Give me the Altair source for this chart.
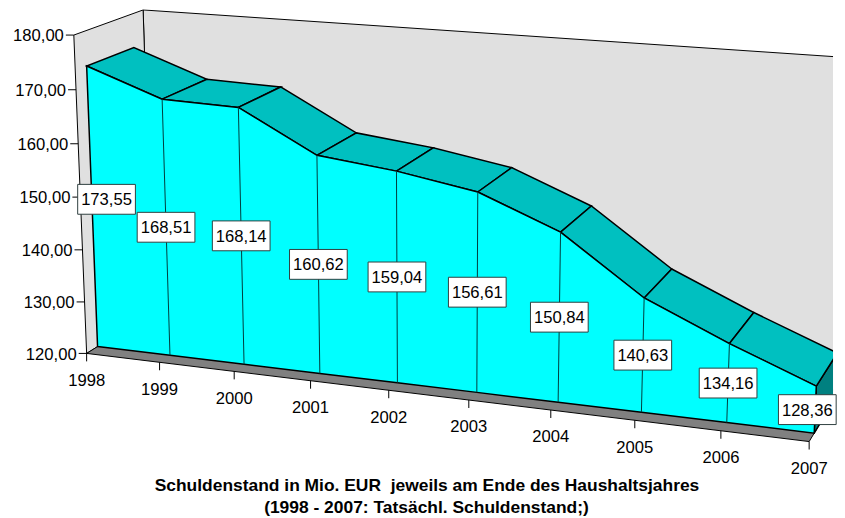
import altair as alt
import pandas as pd

years = ["1998", "1999", "2000", "2001", "2002", "2003", "2004", "2005", "2006", "2007"]
values = [173.55, 168.51, 168.14, 160.62, 159.04, 156.61, 150.84, 140.63, 134.16, 128.36]
value_labels = ["173,55", "168,51", "168,14", "160,62", "159,04", "156,61", "150,84", "140,63", "134,16", "128,36"]
y_ticks = [120, 130, 140, 150, 160, 170, 180]
y_tick_labels = ["120,00", "130,00", "140,00", "150,00", "160,00", "170,00", "180,00"]
title_lines = ["Schuldenstand in Mio. EUR \u00a0jeweils am Ende des Haushaltsjahres",
               "(1998 - 2007: Tatsächl. Schuldenstand;)"]

FONT = "Liberation Sans"
Y_MIN, Y_MAX = 120.0, 180.0
N = len(years) - 1
D_FRONT, D_BACK = -0.23, 1.23


def project(i, v, d=0.0):
    """Oblique perspective of the 3D chart box: category index, value, depth."""
    w = (v - Y_MIN) / 10.0
    X = 98 + 70.85 * i - 2.56 * w + 51.1 * d
    Y = 347 + 4.8 * i - 53.04 * w - 16.2 * d
    W = 1 - 0.0112 * i - 0.00585 * w + 0.0383 * d
    return X / W, Y / W


x_scale = alt.Scale(domain=[8, 837], range=[0, 829], nice=False, zero=False)
y_scale = alt.Scale(domain=[518, 8], range=[510, 0], nice=False, zero=False)
X = alt.X("x:Q", scale=x_scale, axis=None)
Y = alt.Y("y:Q", scale=y_scale, axis=None)


def poly_rows(polys):
    rows = []
    for p, pts in enumerate(polys):
        for k, (a, b) in enumerate(pts):
            rows.append({"poly": p, "k": k, "x": a, "y": b})
    return pd.DataFrame(rows)


def polys(pts_list, fill, stroke="#000000", sw=1.0):
    return alt.Chart(poly_rows(pts_list)).mark_line(
        fill=fill, stroke=stroke, strokeWidth=sw, interpolate="linear-closed", clip=True
    ).encode(x=X, y=Y, detail="poly:N", order="k:Q")


def segs(rows, color="#000000", sw=1.0):
    return alt.Chart(pd.DataFrame(rows)).mark_rule(color=color, strokeWidth=sw, clip=True).encode(
        x=X, y=Y, x2="x2:Q", y2="y2:Q"
    )


def seg(a, b):
    return {"x": a[0], "y": a[1], "x2": b[0], "y2": b[1]}


# box walls
back_wall = [[project(0, Y_MIN, D_BACK), project(N, Y_MIN, D_BACK), project(N, Y_MAX, D_BACK), project(0, Y_MAX, D_BACK)]]
left_wall = [[project(0, Y_MIN, D_FRONT), project(0, Y_MIN, D_BACK), project(0, Y_MAX, D_BACK), project(0, Y_MAX, D_FRONT)]]
floor = [[project(0, Y_MIN, D_FRONT), project(N, Y_MIN, D_FRONT), project(N, Y_MIN, D_BACK), project(0, Y_MIN, D_BACK)]]

# the area body
side = [[project(N, Y_MIN, 0), project(N, Y_MIN, 1), project(N, values[N], 1), project(N, values[N], 0)]]
tops = [[project(i, values[i], 0), project(i + 1, values[i + 1], 0), project(i + 1, values[i + 1], 1), project(i, values[i], 1)]
        for i in range(N)]
front = [[project(i, Y_MIN, 0) for i in range(N + 1)] + [project(i, values[i], 0) for i in range(N, -1, -1)]]
drops = [seg(project(i, Y_MIN, 0), project(i, values[i], 0)) for i in range(1, N)]

# axes
y_tick_rows, y_text = [], []
for t, lab in zip(y_ticks, y_tick_labels):
    a = project(0, t, D_FRONT)
    y_tick_rows.append(seg((a[0] - 8, a[1]), a))
    y_text.append({"x": a[0] - 10, "y": a[1] + 1.3, "t": lab})
x_tick_rows, x_text = [], []
for i, lab in enumerate(years):
    a = project(i, Y_MIN, D_FRONT)
    x_tick_rows.append(seg(a, (a[0], a[1] + 8)))
    x_text.append({"x": a[0], "y": a[1] + 27.5, "t": lab})

# value labels sit half way up the front face; the first is pushed inward, the last kept on the page
label_shift = {0: (14.5, -7.0), N: (-8.0, 0.0)}
boxes, box_text = [], []
for i, lab in enumerate(value_labels):
    top, base = project(i, values[i], 0), project(i, Y_MIN, 0)
    dx, dy = label_shift.get(i, (0, 0))
    cx, cy = (top[0] + base[0]) / 2 + dx, (top[1] + base[1]) / 2 + dy
    boxes.append({"x": cx - 29, "x2": cx + 29, "y": cy - 15, "y2": cy + 15})
    box_text.append({"x": cx, "y": cy + 1, "t": lab})


def texts(rows, align, size=16.7, weight="normal", color="#000000"):
    return alt.Chart(pd.DataFrame(rows)).mark_text(
        font=FONT, fontSize=size, fontWeight=weight, align=align, baseline="middle", color=color
    ).encode(x=X, y=Y, text="t:N")


box_layer = alt.Chart(pd.DataFrame(boxes)).mark_rect(fill="#ffffff", stroke="#2f3f3f", strokeWidth=1).encode(
    x=X, y=Y, x2="x2:Q", y2="y2:Q"
)

title_rows = [{"x": 429, "y": 487, "t": title_lines[0]}, {"x": 428.5, "y": 509.5, "t": title_lines[1]}]

chart = alt.layer(
    polys(back_wall, "#e0e0e0"),
    polys(left_wall, "#e0e0e0"),
    polys(floor, "#808080"),
    polys(side, "#008080", sw=1.5),
    polys(tops, "#00c0c0", sw=1.5),
    polys(front, "#00ffff", sw=1.5),
    segs(drops, "#003c3c", 1.0),
    segs(y_tick_rows),
    segs(x_tick_rows),
    texts(y_text, "right"),
    texts(x_text, "center"),
    box_layer,
    texts(box_text, "center"),
    texts(title_rows, "center", size=17.5, weight="bold"),
).properties(width=829, height=510, padding=0, background="#ffffff").configure_view(stroke=None)

chart.save("out.html", embed_options={"renderer": "svg", "actions": False})
